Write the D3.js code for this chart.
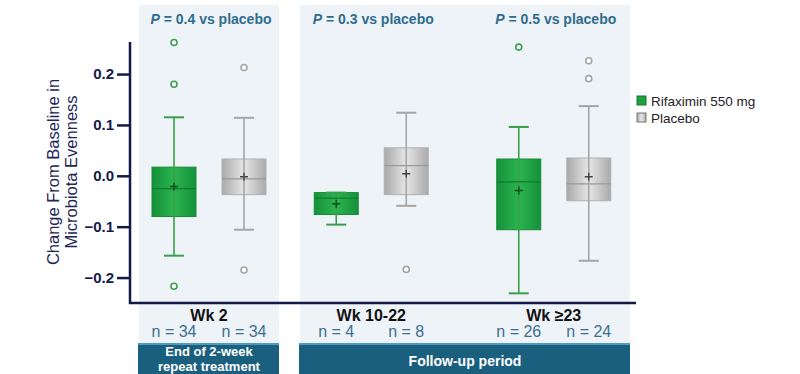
<!DOCTYPE html>
<html>
<head>
<meta charset="utf-8">
<script src="https://cdn.jsdelivr.net/npm/d3@7"></script>
<style>
  body { margin: 0; background: #fff; }
  svg { display: block; font-family: "Liberation Sans", Arial, sans-serif; }
</style>
</head>
<body>
<svg id="chart" width="800" height="374"></svg>
<script>
// groups and periods
var groups = ["Wk 2", "Wk 10-22", "Wk \u226523"];
var groupPeriod = [0, 1, 1];
var periods = [["End of 2-week", "repeat treatment"], ["Follow-up period"]];
var treatments = ["Rifaximin 550 mg", "Placebo"];
var pValues = ["0.4", "0.3", "0.5"];
var yTicks = [-0.2, -0.1, 0.0, 0.1, 0.2];

// n per group
var nRifaximin = [34, 4, 26];
var nPlacebo = [34, 8, 24];

// box stats, rifaximin (per group)
var rifLow    = [-0.157, -0.096, -0.231];
var rifQ1     = [-0.080, -0.076, -0.106];
var rifMedian = [-0.025, -0.044, -0.012];
var rifQ3     = [ 0.017, -0.033,  0.033];
var rifHigh   = [ 0.115, -0.033,  0.096];
var rifMean   = [-0.021, -0.055, -0.029];
var rifOutliers = [[0.262, 0.180, -0.217], [], [0.253]];

// box stats, placebo (per group)
var plaLow    = [-0.106, -0.059, -0.167];
var plaQ1     = [-0.037, -0.037, -0.049];
var plaMedian = [-0.006,  0.020, -0.016];
var plaQ3     = [ 0.033,  0.055,  0.035];
var plaHigh   = [ 0.114,  0.124,  0.137];
var plaMean   = [-0.002,  0.004, -0.002];
var plaOutliers = [[0.213, -0.185], [-0.184], [0.226, 0.191]];

var svg = d3.select("#chart");
var navy = "#15194a", teal = "#2f6c8d";

//gradients for the boxes
var defs = svg.append("defs");
function grad(id, edge, mid) {
  var g = defs.append("linearGradient").attr("id", id).attr("x1", "0").attr("x2", "1");
  g.append("stop").attr("offset", "0%").attr("stop-color", edge);
  g.append("stop").attr("offset", "50%").attr("stop-color", mid);
  g.append("stop").attr("offset", "100%").attr("stop-color", edge);
}
grad("gGreen", "#15913a", "#2cb44e");
grad("gGray", "#a9a9a9", "#e6e6e6");

var style = [
  {fill: "url(#gGreen)", stroke: "#168a35", line: "#3a9e4c", med: "#127a2e", mean: "#0d4a1c", sq: "#1ea03c"},
  {fill: "url(#gGray)", stroke: "#b0b0b0", line: "#a5a5a5", med: "#9a9a9a", mean: "#444", sq: "#bdbdbd"}
];

//y scale
var y = d3.scaleLinear().domain([-0.25, 0.263]).range([303, 42]);

//panels (layout only)
var panelX = [[139, 279], [300, 630]];
var panelTop = 5, panelBottom = 343;

// x scales: one band scale per period, inner band for treatments
var xPeriod = [
  d3.scaleBand().domain([groups[0]]).range([139, 279]),
  d3.scaleBand().domain([groups[1], groups[2]]).range([280, 645])
];
var xTreat = d3.scaleBand().domain(treatments).range([-70, 70]);
function groupCenter(i) {
  var s = xPeriod[groupPeriod[i]];
  return s(groups[i]) + s.bandwidth() / 2;
}

//panel backgrounds
svg.selectAll(".panel").data(panelX).enter().append("rect")
  .attr("x", function(d) { return d[0]; })
  .attr("y", panelTop)
  .attr("width", function(d) { return d[1] - d[0]; })
  .attr("height", panelBottom - panelTop)
  .attr("fill", "#eef3f8");

//period boxes at bottom
var pb = svg.selectAll(".period").data(periods).enter().append("g");
pb.append("rect")
  .attr("x", function(d, i) { return panelX[i][0] - 1; })
  .attr("y", panelBottom)
  .attr("width", function(d, i) { return panelX[i][1] - panelX[i][0] + 1; })
  .attr("height", 40)
  .attr("fill", "#1b5f7e");
pb.append("rect")
  .attr("x", function(d, i) { return panelX[i][0] - 1; })
  .attr("y", panelBottom)
  .attr("width", function(d, i) { return panelX[i][1] - panelX[i][0] + 1; })
  .attr("height", 2)
  .attr("fill", "#4f9cc0");
pb.each(function(d, i) {
  var cx = (panelX[i][0] + panelX[i][1]) / 2;
  var t = d3.select(this).append("text")
    .attr("text-anchor", "middle")
    .attr("fill", "#fff")
    .attr("font-weight", "bold")
    .attr("font-size", d.length === 1 ? "14px" : "13px");
  if (d.length === 1) {
    t.append("tspan").attr("x", cx).attr("y", 366).text(d[0]);
  } else {
    t.append("tspan").attr("x", cx).attr("y", 355.5).text(d[0]);
    t.append("tspan").attr("x", cx).attr("y", 370.5).text(d[1]);
  }
});

//p values
var pt = svg.selectAll(".pval").data(pValues).enter().append("text")
  .attr("x", function(d, i) { return groupCenter(i) + 2; })
  .attr("y", 24)
  .attr("text-anchor", "middle")
  .attr("fill", teal)
  .attr("font-weight", "bold")
  .attr("font-size", "14px");
pt.append("tspan").attr("font-style", "italic").text("P");
pt.append("tspan").text(function(d) { return " = " + d + " vs placebo"; });

//boxes
var boxW = 44, capW = 20;
var sets = [
  {low: rifLow, q1: rifQ1, med: rifMedian, q3: rifQ3, high: rifHigh, mean: rifMean, out: rifOutliers, n: nRifaximin},
  {low: plaLow, q1: plaQ1, med: plaMedian, q3: plaQ3, high: plaHigh, mean: plaMean, out: plaOutliers, n: nPlacebo}
];

sets.forEach(function(s, t) {
  var st = style[t];
  groups.forEach(function(gname, i) {
    var cx = groupCenter(i) + xTreat(treatments[t]) + xTreat.bandwidth() / 2;
    var g = svg.append("g");

    g.append("rect")
      .attr("x", cx - boxW / 2)
      .attr("y", y(s.q3[i]))
      .attr("width", boxW)
      .attr("height", y(s.q1[i]) - y(s.q3[i]))
      .attr("fill", st.fill)
      .attr("stroke", st.stroke)
      .attr("stroke-width", 1);

    // whisker line through box
    g.append("line")
      .attr("x1", cx).attr("x2", cx)
      .attr("y1", y(s.high[i])).attr("y2", y(s.low[i]))
      .attr("stroke", st.line).attr("stroke-width", 1.6);

    //caps
    [s.high[i], s.low[i]].forEach(function(v) {
      g.append("line")
        .attr("x1", cx - capW / 2).attr("x2", cx + capW / 2)
        .attr("y1", y(v)).attr("y2", y(v))
        .attr("stroke", st.line).attr("stroke-width", 2);
    });

    //median
    g.append("line")
      .attr("x1", cx - boxW / 2).attr("x2", cx + boxW / 2)
      .attr("y1", y(s.med[i])).attr("y2", y(s.med[i]))
      .attr("stroke", st.med).attr("stroke-width", 1.2);

    //mean +
    var my = y(s.mean[i]);
    g.append("path")
      .attr("d", "M" + (cx - 4) + "," + my + "H" + (cx + 4) + "M" + cx + "," + (my - 4) + "V" + (my + 4))
      .attr("stroke", st.mean).attr("stroke-width", 1.4);

    //outliers
    g.selectAll("circle").data(s.out[i]).enter().append("circle")
      .attr("cx", cx)
      .attr("cy", function(d) { return y(d); })
      .attr("r", 3)
      .attr("fill", "#fff")
      .attr("stroke", st.line)
      .attr("stroke-width", 1.6);

    //n label
    svg.append("text")
      .attr("x", cx)
      .attr("y", 337)
      .attr("text-anchor", "middle")
      .attr("fill", "#3b6f8f")
      .attr("font-size", "16px")
      .text("n = " + s.n[i]);
  });
});

//group labels
svg.selectAll(".glab").data(groups).enter().append("text")
  .attr("x", function(d, i) { return groupCenter(i); })
  .attr("y", 321)
  .attr("text-anchor", "middle")
  .attr("font-weight", "bold")
  .attr("font-size", "16px")
  .attr("fill", "#111")
  .text(function(d) { return d; });

//y axis
var yAxis = d3.axisLeft(y).tickValues(yTicks).tickSize(13).tickPadding(3)
  .tickFormat(d3.format(".1f"));
var ga = svg.append("g").attr("transform", "translate(130,0)").call(yAxis);
ga.select(".domain").remove();
ga.selectAll("line").attr("stroke", navy).attr("stroke-width", 2.5);
ga.selectAll("text")
  .attr("fill", navy)
  .attr("font-size", "15px")
  .attr("font-weight", "bold")
  .attr("font-family", "Liberation Sans, Arial, sans-serif");

// axis frame lines
svg.append("path")
  .attr("d", "M130," + y.range()[1] + "V303H636")
  .attr("fill", "none")
  .attr("stroke", navy)
  .attr("stroke-width", 2.5);

//y title
var yt = svg.append("text")
  .attr("transform", "translate(0,172) rotate(-90)")
  .attr("text-anchor", "middle")
  .attr("fill", "#1d2656")
  .attr("font-size", "16.5px");
yt.append("tspan").attr("x", 0).attr("y", 59).text("Change From Baseline in");
yt.append("tspan").attr("x", 0).attr("y", 77).text("Microbiota Evenness");

//legend
var lg = svg.selectAll(".leg").data(treatments).enter().append("g")
  .attr("transform", function(d, i) { return "translate(637," + (96 + i * 17) + ")"; });
lg.append("rect")
  .attr("width", 9).attr("height", 9)
  .attr("fill", function(d, i) { return i === 0 ? style[0].sq : "url(#gGray)"; })
  .attr("stroke", function(d, i) { return i === 0 ? "#127a2e" : "#777"; })
  .attr("stroke-width", 1);
lg.append("text")
  .attr("x", 14).attr("y", 9.5)
  .attr("font-size", "13.5px")
  .attr("fill", "#222")
  .text(function(d) { return d; });
</script>
</body>
</html>
